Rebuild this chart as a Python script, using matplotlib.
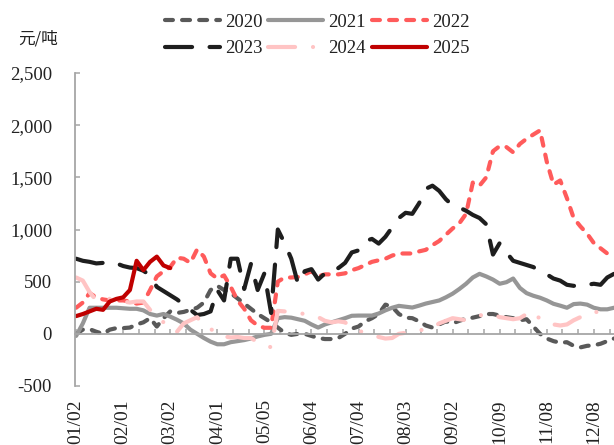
import numpy as np
import matplotlib
matplotlib.use("Agg")
import matplotlib.pyplot as plt
from matplotlib.ticker import FuncFormatter, MultipleLocator

# Trading-day axis, one sample every 3 trading days
STEP = 3
days = np.arange(0, 241, STEP)

date_labels = ["01/02", "02/01", "03/02", "04/01", "05/05", "06/04",
               "07/04", "08/03", "09/02", "10/09", "11/08", "12/08"]
label_days = [21 * i for i in range(len(date_labels))]

y2020 = [0, 40, 45, 20, 0, 40, 55, 55, 60, 90,
         110, 150, 70, 150, 215, 200, 210, 230, 250, 300,
         420, 460, 420, 390, 340, 290, 240, 190, 150, 110,
         60, 10, -10, 0, 0, -20, -40, -50, -50, -40,
         0, 50, 70, 120, 150, 190, 280, 260, 190, 155,
         150, 120, 80, 60, 90, 120, 100, 125, 145, 155,
         170, 190, 190, 175, 160, 150, 130, 140, 70, 0,
         -45, -70, -85, -80, -115, -130, -115, -110, -95, -70,
         -45]

y2021 = [-20, 100, 250, 250, 250, 250, 250, 245, 240, 240,
         225, 190, 175, 190, 165, 135, 100, 40, 0, -40,
         -75, -100, -100, -80, -70, -60, -45, -25, -10, 0,
         150, 160, 155, 140, 125, 90, 60, 90, 110, 130,
         150, 173, 175, 175, 175, 195, 225, 250, 268, 260,
         252, 270, 290, 305, 320, 350, 385, 430, 480, 540,
         575, 550, 520, 480, 495, 530, 440, 390, 365, 346,
         320, 288, 270, 250, 285, 290, 280, 250, 235, 235,
         250]

y2022 = [250, 300, 390, 350, 330, 320, 320, 320, 310, 290,
         300, 420, 550, 600, 640, 730, 720, 680, 810, 740,
         580, 530, 560, 450, 320, 240, 130, 80, 58, 58,
         500, 540, 540, 545, 570, 600, 550, 570, 570, 570,
         580, 610, 630, 660, 690, 705, 720, 750, 770, 770,
         770, 790, 805, 850, 890, 950, 1010, 1060, 1150, 1450,
         1420, 1500, 1750, 1800, 1790, 1740, 1820, 1870, 1910, 1950,
         1650, 1430, 1470, 1300, 1110, 1030, 960, 870, 820, 770,
         750]

y2023 = [720, 700, 690, 675, 680, 685, 675, 650, 635, 630,
         605, 560, 450, 410, 370, 330, 280, 230, 180, 190,
         215, 420, 320, 720, 720, 430, 670, 420, 580, 200,
         1000, 870, 720, 480, 600, 620, 520, 580, 630, 630,
         680, 780, 800, 890, 910, 865, 930, 1020, 1110, 1160,
         1150, 1250, 1390, 1420, 1370, 1290, 1230, 1210, 1180, 1140,
         1110, 1050, 760, 870, 780, 700, 680, 660, 640, 600,
         570, 530, 510, 470, 460, 465, 470, 480, 470, 540,
         575]

y2024 = [540, 510, 400, 320, 340, 335, 320, 310, 300, 310,
         310, 230, 180, 110, 96, 20, 100, 130, 160, 80,
         50, -10, -25, -35, -30, -40, -40, -80, -100, -130,
         220, 215, 205, 200, 190, 175, 160, 125, 110, 120,
         110, 60, 30, 10, -10, -30, -45, -40, 0, 10,
         30, 35, 40, 60, 100, 125, 150, 140, 130, 150,
         175, 190, 185, 160, 150, 140, 150, 190, 215, 140,
         110, 90, 80, 90, 130, 160, 190, 215, 200]

y2025 = [170, 190, 215, 240, 230, 310, 335, 350, 420, 700,
         610, 690, 740, 655, 630]

series = [
    ("2020", y2020, "#595959", (0, (1.9, 2.2))),
    ("2021", y2021, "#969696", "-"),
    ("2022", y2022, "#FF5B5B", (0, (1.9, 2.2))),
    ("2023", y2023, "#1E1E1E", (0, (6.5, 4.2))),
    ("2024", y2024, "#FFC4C4", (0, (6.5, 4.3, 0.01, 4.3))),
    ("2025", y2025, "#C00000", "-"),
]

SERIF = "Liberation Serif"
W, H = 614, 445
fig = plt.figure(figsize=(W / 100, H / 100), dpi=100)
ax = fig.add_axes([75 / W, (H - 386) / H, (W - 75) / W, (386 - 73) / H])

lines = {}
for name, vals, color, ls in series:
    ln, = ax.plot(days[:len(vals)], vals, color=color, linestyle=ls, lw=3,
                  dash_capstyle="round", solid_capstyle="round",
                  solid_joinstyle="round", dash_joinstyle="round", label=name)
    lines[name] = ln

ax.set_xlim(-0.5, 240)
ax.set_ylim(-500, 2500)

axis_grey = "#A6A6A6"
for side in ("top", "right"):
    ax.spines[side].set_visible(False)
ax.spines["left"].set_color(axis_grey)
ax.spines["left"].set_linewidth(1.3)
ax.spines["bottom"].set_position(("data", 0))
ax.spines["bottom"].set_color(axis_grey)
ax.spines["bottom"].set_linewidth(1.3)

ax.set_yticks(range(-500, 2501, 500))
ax.yaxis.set_major_formatter(FuncFormatter(lambda v, p: f"{int(v):,}"))
ax.tick_params(axis="y", direction="in", length=3.6, width=1.1,
               color=axis_grey, pad=16.5, labelsize=13.5, labelcolor="#222222")
ax.xaxis.set_major_locator(MultipleLocator(7))
ax.tick_params(axis="x", direction="in", length=3.6, width=1.1,
               color=axis_grey, labelbottom=False)
for t in ax.get_yticklabels():
    t.set_fontfamily(SERIF)

# Date labels along the bottom edge
sec = ax.secondary_xaxis("bottom")
sec.spines["bottom"].set_visible(False)
sec.xaxis.set_ticks(label_days, labels=date_labels)
sec.tick_params(length=0, pad=9.5, labelsize=14, labelcolor="#222222")
for t in sec.get_xticklabels():
    t.set_rotation(90)
    t.set_fontfamily(SERIF)

fig.text(18 / W, 1 - 39 / H, "元/吨", fontsize=12, va="center", ha="left",
         family=["Noto Sans CJK SC", "DejaVu Sans"], color="#222222")

order = ["2020", "2023", "2021", "2024", "2022", "2025"]
fig.legend([lines[n] for n in order], order, ncol=3, loc="center",
           bbox_to_anchor=(317 / W, 1 - 35.5 / H), frameon=False,
           prop={"family": SERIF, "size": 13.5}, handlelength=2.93,
           handletextpad=0.27, columnspacing=0.32, labelspacing=0.5,
           borderpad=0, labelcolor="#222222")

fig.savefig("out.png", dpi=100)
